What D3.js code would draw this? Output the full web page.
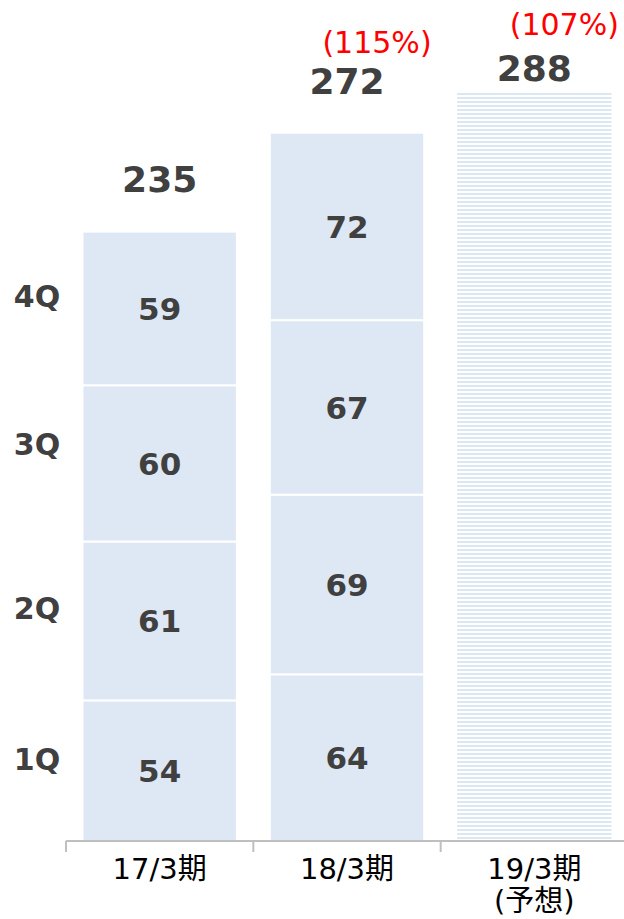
<!DOCTYPE html>
<html>
<head>
<meta charset="utf-8">
<script src="https://cdn.jsdelivr.net/npm/d3@7"></script>
<style>
  body { margin: 0; background: #fff; }
  svg { display: block; }
  text { font-family: "DejaVu Sans", "Noto Sans CJK JP", sans-serif; }
</style>
</head>
<body>
<div id="chart"></div>
<script>
// periods along the x axis
const periods = ["17/3期", "18/3期", "19/3期"];
const periodSub = ["", "", "(予想)"];
const quarters = ["1Q", "2Q", "3Q", "4Q"];
// quarterly values per period (forecast has no breakdown)
const q17 = [54, 61, 60, 59];
const q18 = [64, 69, 67, 72];
const totals = [235, 272, 288];
const growth = ["", "(115%)", "(107%)"];

const width = 624;
const height = 919;

const svg = d3.select("#chart").append("svg")
  .attr("width", width)
  .attr("height", height);

// stripes for the forecast bar
const defs = svg.append("defs");
const pat = defs.append("pattern")
  .attr("id", "stripes")
  .attr("patternUnits", "userSpaceOnUse")
  .attr("width", 8).attr("height", 4);
pat.append("rect").attr("width", 8).attr("height", 4).attr("fill", "#fff");
pat.append("rect").attr("y", 1).attr("width", 8).attr("height", 2).attr("fill", "#dce7f4");

const x = d3.scaleBand()
  .domain(periods)
  .range([66, 628])
  .paddingInner(0.176)
  .paddingOuter(0.088);

const y = d3.scaleLinear()
  .domain([0, 288])
  .range([841, 91]);

// stacked quarter segments
const stacked = [q17, q18].map((vals, i) => {
  let acc = 0;
  return vals.map((v, j) => {
    const seg = { period: periods[i], q: quarters[j], v, y0: acc, y1: acc + v };
    acc += v;
    return seg;
  });
});

const segs = svg.append("g");
stacked.forEach(col => {
  segs.selectAll(null)
    .data(col)
    .enter()
    .append("rect")
    .attr("x", d => x(d.period))
    .attr("width", x.bandwidth())
    .attr("y", d => y(d.y1))
    .attr("height", d => y(d.y0) - y(d.y1))
    .attr("fill", "#dde8f4")
    .attr("stroke", "#fff")
    .attr("stroke-width", 2);

  segs.selectAll(null)
    .data(col)
    .enter()
    .append("text")
    .attr("x", d => x(d.period) + x.bandwidth() / 2)
    .attr("y", d => (y(d.y0) + y(d.y1)) / 2)
    .attr("dy", "0.36em")
    .attr("text-anchor", "middle")
    .attr("font-size", 31)
    .attr("font-weight", "bold")
    .attr("fill", "#404040")
    .text(d => d.v);
});

// forecast bar
svg.append("rect")
  .attr("x", x(periods[2]))
  .attr("width", x.bandwidth())
  .attr("y", y(totals[2]))
  .attr("height", y(0) - y(totals[2]))
  .attr("fill", "url(#stripes)");

// quarter labels on the left, next to the first column
const qShift = [11, 13, 19, 12];
svg.append("g").selectAll("text")
  .data(stacked[0])
  .enter()
  .append("text")
  .attr("x", 37)
  .attr("y", (d, i) => (y(d.y0) + y(d.y1)) / 2 - qShift[i])
  .attr("dy", "0.36em")
  .attr("text-anchor", "middle")
  .attr("font-size", 30)
  .attr("font-weight", "bold")
  .attr("fill", "#404040")
  .text(d => d.q);

// totals above the bars
const totalOffset = [50, 52, 23];
svg.append("g").selectAll("text")
  .data(totals)
  .enter()
  .append("text")
  .attr("x", (d, i) => x(periods[i]) + x.bandwidth() / 2)
  .attr("y", (d, i) => y(d) - totalOffset[i])
  .attr("dy", "0.36em")
  .attr("text-anchor", "middle")
  .attr("font-size", 36)
  .attr("font-weight", "bold")
  .attr("fill", "#404040")
  .text(d => d);

// growth rates in red
const growthY = [0, 42, 24];
svg.append("g").selectAll("text")
  .data(growth)
  .enter()
  .append("text")
  .attr("x", (d, i) => x(periods[i]) + x.bandwidth() / 2 + 30)
  .attr("y", (d, i) => growthY[i])
  .attr("dy", "0.36em")
  .attr("text-anchor", "middle")
  .attr("font-size", 30)
  .attr("fill", "#ff0000")
  .text(d => d);

// x axis
const axis = svg.append("g")
  .attr("transform", `translate(0,${y(0)})`)
  .call(d3.axisBottom(x).tickSize(0).tickFormat(""));
axis.select(".domain").attr("stroke", "#bfbfbf").attr("stroke-width", 2)
  .attr("d", `M${x.range()[0]},0H${x.range()[1]}`);

const edges = periods.map(p => x(p) - x.step() * x.paddingInner() / 2);
axis.selectAll(".edge")
  .data(edges)
  .enter()
  .append("line")
  .attr("x1", d => d).attr("x2", d => d)
  .attr("y1", 0).attr("y2", 11)
  .attr("stroke", "#bfbfbf")
  .attr("stroke-width", 2);

const lab = svg.append("g").selectAll("text")
  .data(periods)
  .enter()
  .append("text")
  .attr("x", d => x(d) + x.bandwidth() / 2)
  .attr("y", 879)
  .attr("text-anchor", "middle")
  .attr("font-size", 29)
  .attr("fill", "#000");
lab.append("tspan").text(d => d);
lab.append("tspan")
  .attr("x", d => x(d) + x.bandwidth() / 2)
  .attr("dy", 32)
  .text((d, i) => periodSub[i]);
</script>
</body>
</html>
